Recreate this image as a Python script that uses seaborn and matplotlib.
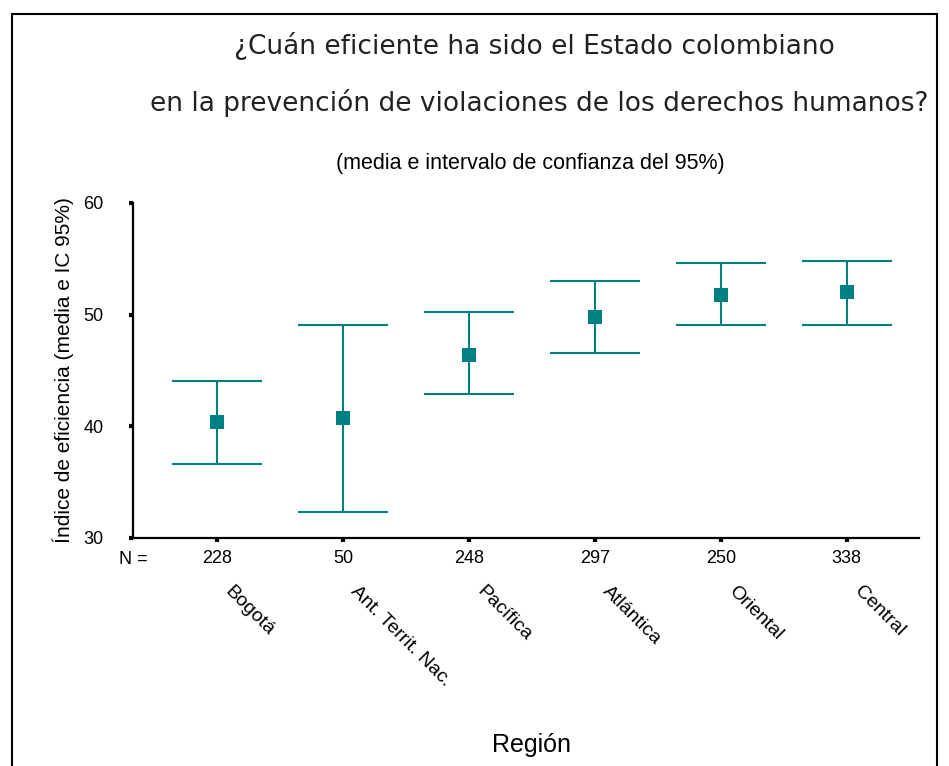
import numpy as np
import pandas as pd
import matplotlib
matplotlib.use("Agg")
import matplotlib.pyplot as plt
import seaborn as sns
from matplotlib.patches import Rectangle

# data
regions = ['Bogotá', 'Ant. Territ. Nac.', 'Pacífica', 'Atlántica', 'Oriental', 'Central']
n_counts = [228, 50, 248, 297, 250, 338]
means = [40.4, 40.7, 46.4, 49.8, 51.8, 52.0]
ci_low = [36.6, 32.3, 42.9, 46.6, 49.1, 49.1]
ci_high = [44.1, 49.1, 50.2, 53.0, 54.6, 54.8]

teal = '#008080'

sns.set_style('white')
plt.rcParams['font.family'] = ['Liberation Sans', 'DejaVu Sans']
plt.rcParams['text.color'] = 'black'
plt.rcParams['axes.labelcolor'] = 'black'

df = pd.DataFrame({'Region': regions, 'Media': means, 'Low': ci_low, 'High': ci_high})

fig = plt.figure(figsize=(9.49, 7.66), dpi=100)
ax = fig.add_axes([0.140, 0.2977, 0.828, 0.4373])

err = [df['Media'] - df['Low'], df['High'] - df['Media']]
ax.errorbar(np.arange(len(df)), df['Media'], yerr=err, fmt='none', ecolor=teal,
            elinewidth=1.5, capsize=32.5, capthick=1.5, zorder=2)
sns.scatterplot(data=df, x=np.arange(len(df)), y='Media', marker='s', s=100,
                color=teal, edgecolor=teal, linewidth=0, ax=ax, zorder=3)

ax.set_xlim(-0.667, 5.57)
ax.set_ylim(30, 60)
ax.set_yticks([30, 40, 50, 60])
ax.set_xticks(np.arange(len(df)))
ax.set_xticklabels([str(n) for n in n_counts])
ax.tick_params(axis='both', direction='out', length=3, width=3, color='black',
               labelsize=13, labelcolor='black', bottom=True, left=True)
ax.tick_params(axis='x', pad=6)
ax.tick_params(axis='y', pad=18)
for s in ['top', 'right']:
    ax.spines[s].set_visible(False)
for s in ['left', 'bottom']:
    ax.spines[s].set_color('black')
    ax.spines[s].set_linewidth(1.6)

ax.set_xlabel('')
ax.set_ylabel('Índice de eficiencia (media e IC 95%)', fontsize=15, labelpad=7)

# N = row and rotated region names
ax.text(0, -0.063, 'N =', transform=ax.transAxes, ha='center', va='center', fontsize=13)
trans = matplotlib.transforms.blended_transform_factory(ax.transData, ax.transAxes)
for i, r in enumerate(regions):
    ax.text(i + 0.13, -0.134, r, transform=trans, rotation=-45, rotation_mode='anchor',
            ha='left', va='top', fontsize=14)

fig.text(531 / 949, 1 - 745 / 766, 'Región', ha='center', va='center', fontsize=18)

fig.text(534 / 949, 1 - 46 / 766, '¿Cuán eficiente ha sido el Estado colombiano',
         ha='center', va='center', fontsize=19, family='DejaVu Sans', color='#222222')
fig.text(539 / 949, 1 - 103 / 766, 'en la prevención de violaciones de los derechos humanos?',
         ha='center', va='center', fontsize=19, family='DejaVu Sans', color='#222222')
fig.text(530 / 949, 1 - 163 / 766, '(media e intervalo de confianza del 95%)',
         ha='center', va='center', fontsize=15.5)

# frame around the figure
fig.patches.append(Rectangle((12 / 949, -0.1), (937 - 12) / 949, 1.1 - 14 / 766,
                             transform=fig.transFigure, fill=False, edgecolor='black',
                             linewidth=1.5))

fig.savefig('out.png', dpi=100)
